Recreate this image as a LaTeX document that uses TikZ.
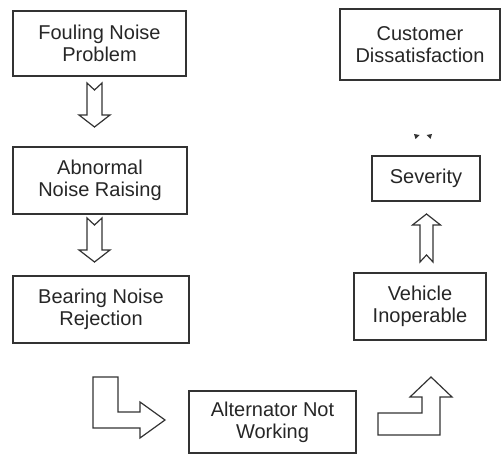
\documentclass[tikz,border=0pt]{standalone}
\usepackage{fontspec}
\setmainfont{Liberation Sans}

\begin{document}
\begin{tikzpicture}[x=1pt,y=-1pt,
	box/.style={draw=black!80, line width=1.5pt, align=center, inner sep=0pt,
		font=\fontsize{20}{22}\selectfont, text=black!85},
	blockarrow/.style={draw=black!80, line width=1.2pt, line join=miter, fill=white}]
	\useasboundingbox (0,0) rectangle (501,454);
	% left column
	\node[box, minimum width=173pt, minimum height=65pt] (fouling) at (99.5,43.5) {Fouling Noise\\Problem};
	\node[box, minimum width=174pt, minimum height=67pt] (abnormal) at (100,180.5) {Abnormal\\Noise Raising};
	\node[box, minimum width=176pt, minimum height=67pt] (bearing) at (101,309.5) {Bearing Noise\\Rejection};
	% bottom
	\node[box, minimum width=167pt, minimum height=62pt] (alternator) at (272.5,422) {Alternator Not\\Working};
	% right column
	\node[box, minimum width=132pt, minimum height=67pt] (vehicle) at (420,306.5) {Vehicle\\Inoperable};
	\node[box, minimum width=108pt, minimum height=45pt] (severity) at (426,178.5) {Severity};
	\node[box, minimum width=160pt, minimum height=71pt] (customer) at (420,44.5) {Customer\\Dissatisfaction};
	% down arrows
	\foreach \y in {0,135}
		\draw[blockarrow] (87,83+\y) -- (94.5,90+\y) -- (102,83+\y) -- (102,115+\y) -- (110,115+\y)
			-- (94.5,127+\y) -- (79,115+\y) -- (87,115+\y) -- cycle;
	% bent arrows
	\draw[blockarrow] (93,377) -- (118,377) -- (118,412) -- (140,412) -- (140,402) -- (165,420)
		-- (140,438) -- (140,428) -- (93,428) -- cycle;
	\draw[blockarrow] (378,413) -- (422,413) -- (422,397) -- (410,397) -- (431,377) -- (452,397)
		-- (440,397) -- (440,435) -- (378,435) -- cycle;
	% up arrow
	\draw[blockarrow] (420,262) -- (426.5,255) -- (433,262) -- (433,225) -- (440.5,225) -- (426.5,214)
		-- (412.5,225) -- (420,225) -- cycle;
	% leftover marks
	\fill[black!80] (414,134) -- (419.5,135) -- (415.5,139) -- cycle;
	\fill[black!80] (432,134) -- (426.5,135) -- (430.5,139) -- cycle;
\end{tikzpicture}
\end{document}
